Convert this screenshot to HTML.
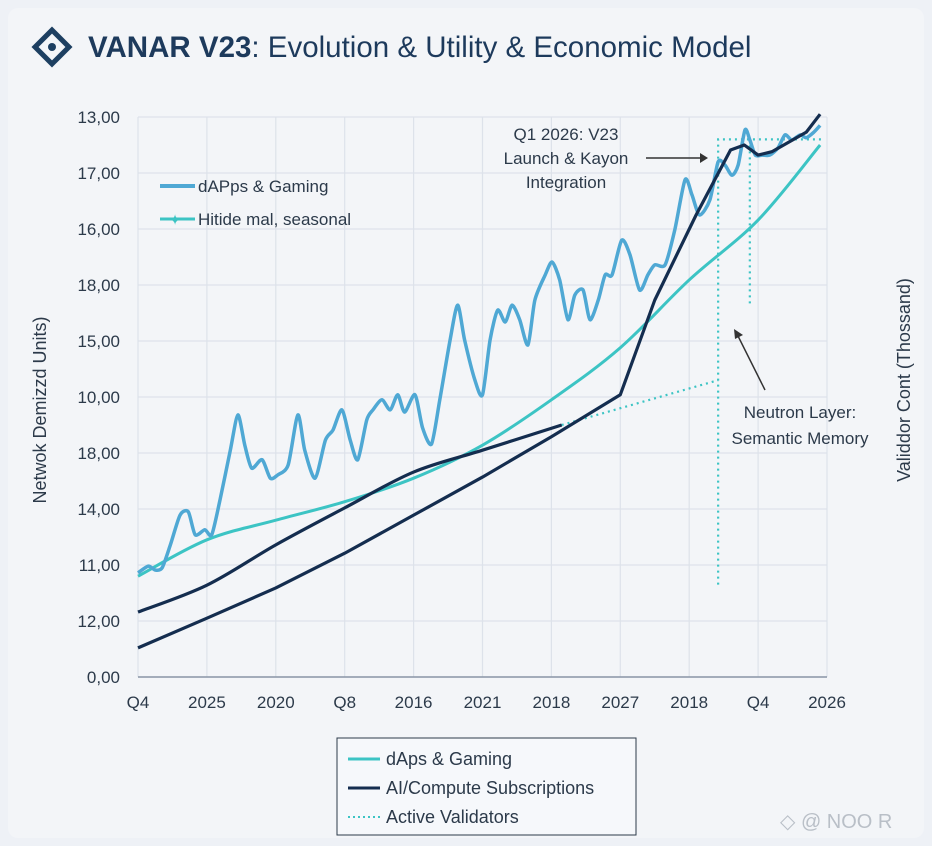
<!DOCTYPE html>
<html><head><meta charset="utf-8"><style>
body{margin:0;background:#eef1f6;font-family:"Liberation Sans",sans-serif;}
svg{display:block}
</style></head><body>
<svg id="c" width="932" height="846" viewBox="0 0 932 846">
<rect width="932" height="846" fill="#eef1f6"/>
<rect x="8" y="8" width="916" height="830" rx="10" fill="#f3f5f8"/>
<g transform="translate(52,47)">
<rect x="-12" y="-12" width="24" height="24" transform="rotate(45)" fill="none" stroke="#1d3f61" stroke-width="5"/>
<circle r="4" fill="#1d3f61"/>
</g>
<text x="88" y="57" font-size="29.5" fill="#1d3a5c"><tspan font-weight="bold">VANAR V23</tspan>: Evolution &amp; Utility &amp; Economic Model</text>
<g id="grid"></g>
<g id="axes"></g>
<g id="series"></g>
<text x="566" y="140" font-size="17" fill="#2c3a4a" text-anchor="middle"><tspan x="566">Q1 2026: V23</tspan><tspan x="566" dy="24">Launch &amp; Kayon</tspan><tspan x="566" dy="24">Integration</tspan></text>
<line x1="646" y1="158" x2="700" y2="158" stroke="#333" stroke-width="1.5"/>
<path d="M700 153 L708 158 L700 163Z" fill="#333"/>
<text x="800" y="418" font-size="17" fill="#2c3a4a" text-anchor="middle"><tspan x="800">Neutron Layer:</tspan><tspan x="800" dy="26">Semantic Memory</tspan></text>
<line x1="765" y1="390" x2="738" y2="336" stroke="#333" stroke-width="1.5"/>
<path d="M734 329 L743 335 L735 339Z" fill="#333"/>
<text transform="translate(46,410) rotate(-90)" font-size="18" fill="#2c3a4a" text-anchor="middle">Netwok Demizzd Units)</text>
<text transform="translate(910,380) rotate(-90)" font-size="18" fill="#2c3a4a" text-anchor="middle">Validdor Cont (Thossand)</text>
<g>
<line x1="160" y1="186" x2="195" y2="186" stroke="#4fa8d4" stroke-width="4"/>
<text x="198" y="192" font-size="17" fill="#2c3a4a">dAPps &amp; Gaming</text>
<line x1="160" y1="219" x2="195" y2="219" stroke="#3cc4c4" stroke-width="3"/>
<text x="175" y="225" font-size="15" fill="#3cc4c4" text-anchor="middle">✦</text>
<text x="198" y="225" font-size="17" fill="#2c3a4a">Hitide mal, seasonal</text>
</g>
<g>
<rect x="337" y="738" width="299" height="97" fill="#f6f8fb" stroke="#2c3a4a" stroke-width="1"/>
<line x1="348" y1="759" x2="380" y2="759" stroke="#3cc4c4" stroke-width="3"/>
<text x="386" y="765" font-size="18" fill="#2c3a4a">dAps &amp; Gaming</text>
<line x1="348" y1="788" x2="380" y2="788" stroke="#142d4f" stroke-width="3"/>
<text x="386" y="794" font-size="18" fill="#2c3a4a">AI/Compute Subscriptions</text>
<line x1="348" y1="817" x2="380" y2="817" stroke="#3cc4c4" stroke-width="2" stroke-dasharray="2 3"/>
<text x="386" y="823" font-size="18" fill="#2c3a4a">Active Validators</text>
</g>
<text x="780" y="828" font-size="20" fill="#b9bfc7">◇ @ NOO R</text>
</svg>
<script>
const xLabels=["Q4","2025","2020","Q8","2016","2021","2018","2027","2018","Q4","2026"];
const yLabels=["0,00","12,00","11,00","14,00","18,00","10,00","15,00","18,00","16,00","17,00","13,00"];
// x in tick-index units, y in tick-index units (0 = bottom)
const dappsX=[0,0.15,0.25,0.35,0.47,0.61,0.73,0.83,0.97,1.07,1.19,1.34,1.45,1.55,1.65,1.8,1.92,2.03,2.18,2.32,2.42,2.57,2.72,2.83,2.96,3.08,3.19,3.32,3.41,3.54,3.66,3.77,3.87,4.02,4.13,4.26,4.38,4.53,4.64,4.74,4.89,5.0,5.11,5.22,5.33,5.43,5.54,5.66,5.76,5.91,6.01,6.12,6.24,6.34,6.46,6.56,6.68,6.78,6.88,7.02,7.14,7.28,7.4,7.5,7.65,7.79,7.94,8.04,8.15,8.3,8.42,8.52,8.62,8.71,8.81,8.88,8.96,9.06,9.17,9.29,9.39,9.49,9.61,9.7,9.81,9.9];
const dappsY=[1.86,1.98,1.91,1.95,2.36,2.89,2.95,2.54,2.63,2.54,3.16,4.05,4.68,4.14,3.73,3.88,3.55,3.61,3.79,4.68,4.05,3.55,4.23,4.41,4.77,4.23,3.88,4.59,4.77,4.95,4.77,5.04,4.73,5.04,4.45,4.16,4.95,6.02,6.64,6.02,5.3,5.04,6.02,6.55,6.34,6.64,6.38,5.93,6.73,7.18,7.41,7.09,6.38,6.82,6.91,6.38,6.73,7.18,7.18,7.8,7.54,6.91,7.18,7.36,7.36,7.98,8.88,8.61,8.25,8.52,9.2,9.14,8.96,9.14,9.77,9.59,9.32,9.32,9.32,9.45,9.68,9.59,9.68,9.63,9.73,9.85];
const aiX=[0,1,2,3,4,5,6,7,7.5,8.1,8.6,8.8,9.0,9.2,9.5,9.7,9.9];
const aiY=[0.52,1.05,1.59,2.21,2.89,3.57,4.29,5.04,6.73,8.25,9.41,9.5,9.32,9.38,9.59,9.73,10.05];
const ai2X=[0,1,2,3,4,5,6.15];
const ai2Y=[1.16,1.64,2.36,3.02,3.66,4.05,4.5];
const tealX=[0,1,2,3,4,5,6,7,8,9,9.9];
const tealY=[1.8,2.45,2.8,3.13,3.55,4.14,4.95,5.88,7.09,8.16,9.5];
const valX=[6.15,8.42];
const valY=[4.5,5.3];
const X0=138,XS=68.9,Y0=677,YS=56;
const sx=i=>X0+i*XS, sy=v=>Y0-v*YS;
const NS="http://www.w3.org/2000/svg";
function mk(tag,attrs,parent){const e=document.createElementNS(NS,tag);for(const k in attrs)e.setAttribute(k,attrs[k]);parent.appendChild(e);return e;}
const grid=document.getElementById('grid'),axes=document.getElementById('axes'),ser=document.getElementById('series');
xLabels.forEach((l,i)=>{
 const g=mk('line',{x1:sx(i),x2:sx(i),y1:sy(10),y2:sy(0),stroke:'#dde2ea','stroke-width':1.2},grid);
 
 
 const t=mk('text',{x:sx(i),y:708,'font-size':17,fill:'#2c3a4a','text-anchor':'middle'},axes);
 t.textContent=l;
 
 
});
yLabels.forEach((l,i)=>{
 const g=mk('line',{x1:sx(0),x2:sx(10),y1:sy(i),y2:sy(i),stroke:'#dde2ea','stroke-width':1.2},grid);
 
 
 const t=mk('text',{x:120,y:sy(i)+6,'font-size':17,fill:'#2c3a4a','text-anchor':'end'},axes);
 t.textContent=l;
 
 
});
const ax=mk('line',{x1:sx(0),x2:sx(10),y1:sy(0),y2:sy(0),stroke:'#8a96a6','stroke-width':1.5},axes);


function smooth(xs,ys,k){k=k||6;let p=[];for(let i=0;i<xs.length;i++)p.push([sx(xs[i]),sy(ys[i])]);
 let d='M'+p[0][0]+' '+p[0][1];
 for(let i=0;i<p.length-1;i++){const p0=p[i-1]||p[i],p1=p[i],p2=p[i+1],p3=p[i+2]||p2;
 d+=` C${p1[0]+(p2[0]-p0[0])/k} ${p1[1]+(p2[1]-p0[1])/k} ${p2[0]-(p3[0]-p1[0])/k} ${p2[1]-(p3[1]-p1[1])/k} ${p2[0]} ${p2[1]}`;}
 return d;}
function poly(xs,ys){return xs.map((x,i)=>(i?'L':'M')+sx(x)+' '+sy(ys[i])).join(' ');}
const v1=mk('path',{d:poly(valX,valY),fill:'none',stroke:'#3cc4c4','stroke-width':2.2,'stroke-dasharray':'2 4'},ser);


const vd=mk('path',{d:`M${sx(8.42)} ${sy(1.65)} V${sy(9.6)} H${sx(9.95)} M${sx(8.88)} ${sy(9.6)} V${sy(6.65)}`,fill:'none',stroke:'#3cc4c4','stroke-width':2.2,'stroke-dasharray':'2 4'},ser);


const t1=mk('path',{d:smooth(tealX,tealY),fill:'none',stroke:'#3cc4c4','stroke-width':3},ser);


const d1=mk('path',{d:smooth(dappsX,dappsY,8),fill:'none',stroke:'#4fa8d4','stroke-width':3.5,'stroke-linejoin':'round'},ser);


const a2=mk('path',{d:smooth(ai2X,ai2Y),fill:'none',stroke:'#142d4f','stroke-width':3.2},ser);


const a1=mk('path',{d:poly(aiX,aiY),fill:'none',stroke:'#142d4f','stroke-width':3.2,'stroke-linejoin':'round'},ser);


</script>
</body></html>
